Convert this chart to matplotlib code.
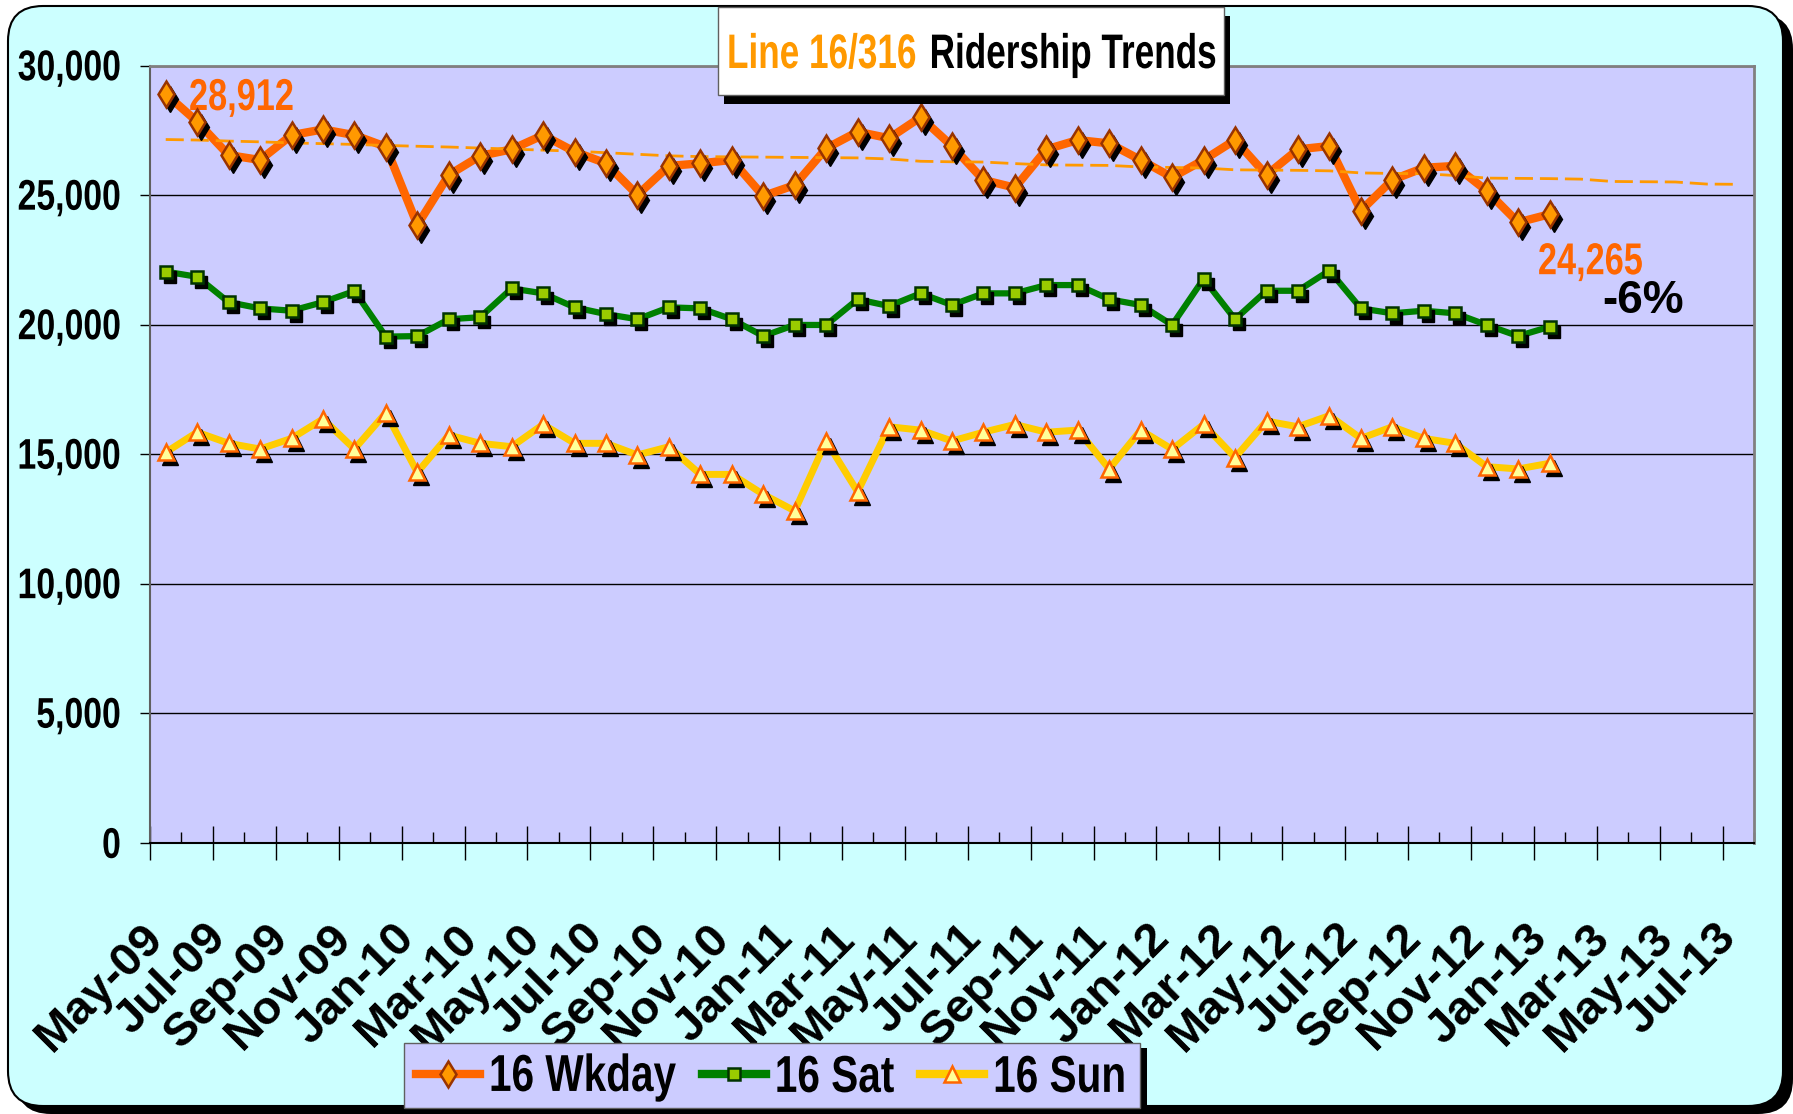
import matplotlib
matplotlib.use('Agg')
import matplotlib.pyplot as plt
import numpy as np
from matplotlib import transforms
from matplotlib.patches import FancyBboxPatch, Rectangle
from matplotlib.patheffects import AbstractPathEffect
from matplotlib.lines import Line2D
from matplotlib.transforms import Affine2D

# month categories (May-09 .. Jul-13)
months = ['May-09', 'Jun-09', 'Jul-09', 'Aug-09', 'Sep-09', 'Oct-09', 'Nov-09', 'Dec-09',
          'Jan-10', 'Feb-10', 'Mar-10', 'Apr-10', 'May-10', 'Jun-10', 'Jul-10', 'Aug-10',
          'Sep-10', 'Oct-10', 'Nov-10', 'Dec-10', 'Jan-11', 'Feb-11', 'Mar-11', 'Apr-11',
          'May-11', 'Jun-11', 'Jul-11', 'Aug-11', 'Sep-11', 'Oct-11', 'Nov-11', 'Dec-11',
          'Jan-12', 'Feb-12', 'Mar-12', 'Apr-12', 'May-12', 'Jun-12', 'Jul-12', 'Aug-12',
          'Sep-12', 'Oct-12', 'Nov-12', 'Dec-12', 'Jan-13', 'Feb-13', 'Mar-13', 'Apr-13',
          'May-13', 'Jun-13', 'Jul-13']

wkday = [28912, 27840, 26550, 26360, 27320, 27540, 27320, 26870, 23850, 25780, 26520, 26770,
         27320, 26680, 26230, 25010, 26130, 26230, 26360, 24970, 25390, 26810, 27450, 27200,
         28010, 26900, 25590, 25290, 26770, 27130, 27000, 26360, 25690, 26360, 27130, 25780,
         26770, 26900, 24400, 25590, 26060, 26130, 25170, 23950, 24265]

sat = [22050, 21850, 20870, 20630, 20540, 20870, 21300, 19540, 19560, 20210, 20290, 21400,
       21210, 20670, 20410, 20210, 20670, 20630, 20210, 19560, 19990, 19990, 20980, 20720,
       21210, 20760, 21210, 21210, 21530, 21530, 20980, 20760, 19990, 21770, 20210, 21310,
       21310, 22090, 20630, 20440, 20540, 20440, 19990, 19560, 19920]

sun = [15070, 15850, 15420, 15200, 15610, 16360, 15200, 16600, 14300, 15740, 15420, 15290,
       16150, 15420, 15420, 14970, 15290, 14220, 14220, 13450, 12810, 15510, 13550, 16060,
       15930, 15510, 15850, 16150, 15850, 15930, 14430, 15930, 15190, 16150, 14870, 16280,
       16060, 16490, 15610, 16060, 15610, 15420, 14520, 14430, 14650]

# weekday trend (dashed)
trend = [27150, 27130, 27090, 27060, 27020, 26990, 26960, 26920, 26890, 26860, 26820, 26780,
         26740, 26700, 26640, 26580, 26520, 26490, 26480, 26470, 26460, 26450, 26440, 26400,
         26310, 26290, 26280, 26220, 26170, 26160, 26150, 26090, 26070, 26050, 25980, 25970,
         25960, 25940, 25860, 25840, 25830, 25760, 25660, 25650, 25640, 25620, 25530, 25520,
         25510, 25430, 25420]

y_ticks = [0, 5000, 10000, 15000, 20000, 25000, 30000]

W, H = 1793, 1114
plt.rcParams['font.family'] = ['Liberation Sans', 'DejaVu Sans']
plt.rcParams['font.weight'] = 'bold'


class Tall(AbstractPathEffect):
    """Stretch glyphs vertically to mimic a condensed (narrow) face."""

    def __init__(self, sy=1.28, center=True):
        super().__init__()
        self.sy = sy
        self.center = center

    def draw_path(self, renderer, gc, tpath, affine, rgbFace=None):
        cy = 0
        if self.center:
            ext = tpath.get_extents()
            cy = (ext.y0 + ext.y1) / 2
        t = Affine2D().translate(0, -cy).scale(1, self.sy).translate(0, cy) + affine
        renderer.draw_path(gc, tpath, t, rgbFace)


def fx(px):
    return px / W


def fy(py):
    return 1 - py / H


fig = plt.figure(figsize=(W / 100, H / 100), dpi=100)
fig.patch.set_facecolor('white')
pix = transforms.IdentityTransform()

# rounded chart area with black shadow
fig.add_artist(FancyBboxPatch((16, 0), 1777, 1100, boxstyle='round,pad=0,rounding_size=35',
                              fc='black', ec='none', transform=pix, zorder=-6))
fig.add_artist(FancyBboxPatch((8, 8), 1775, 1100, boxstyle='round,pad=0,rounding_size=35',
                              fc='#CCFFFF', ec='black', lw=1.5, transform=pix, zorder=-5))

ax = fig.add_axes([fx(150), fy(842.7), fx(1754 - 150), (842.7 - 65.7) / H])
ax.set_facecolor('#CCCCFF')

x = np.arange(len(wkday))
xt = np.arange(len(trend))
shadow = transforms.offset_copy(ax.transData, fig=fig, x=4, y=-5, units='dots')

ax.plot(x, wkday, color='#FF6600', lw=6, zorder=3, solid_joinstyle='round')
ax.plot(x, sat, color='#008000', lw=4.5, zorder=3, solid_joinstyle='round')
ax.plot(x, sun, color='#FFCC00', lw=5, zorder=3, solid_joinstyle='round')
ax.plot(xt, trend, color='#FF9900', lw=2, dashes=(6.5, 2.5), zorder=3.5)

styles = [
    (wkday, 'd', 13, '#FF9900', '#993300'),
    (sat, 's', 9, '#99CC00', '#003300'),
    (sun, '^', 12, '#FFFF99', '#FF6600'),
]
for vals, mk, ms, fc, ec in styles:
    ax.plot(x, vals, ls='none', marker=mk, ms=ms, color='black', transform=shadow, zorder=4)
    ax.plot(x, vals, ls='none', marker=mk, ms=ms, mfc=fc, mec=ec, mew=1.8, zorder=5)

ax.set_xlim(-0.5, len(months) - 0.5)
ax.set_ylim(0, 30000)
ax.set_yticks(y_ticks, [f'{v:,}' for v in y_ticks])
ax.yaxis.grid(True, color='black', lw=1)
ax.set_axisbelow(True)
ax.tick_params(axis='y', direction='out', length=7, width=1, pad=14, labelsize=24.3)
for t in ax.get_yticklabels():
    t.set_path_effects([Tall(1.27)])

ax.set_xticks(np.arange(-0.5, len(months), 2))
ax.set_xticks(np.arange(0.5, len(months), 2), minor=True)
ax.tick_params(axis='x', which='major', direction='inout', length=25, width=1, labelbottom=False)
ax.tick_params(axis='x', which='minor', direction='in', length=8, width=1)
for i in range(0, len(months), 2):
    ax.text(i - 0.79, -0.094, months[i], transform=ax.get_xaxis_transform(), rotation=45,
            rotation_mode='anchor', ha='right', va='top', fontsize=34)

for side in ['top', 'right']:
    ax.spines[side].set_color('#808080')
    ax.spines[side].set_linewidth(2)
ax.spines['left'].set_color('#606060')
ax.spines['left'].set_linewidth(1.5)
ax.spines['bottom'].set_color('black')
ax.spines['bottom'].set_linewidth(1.5)

# value callouts
t1 = ax.text(0.74, 28290, f'{wkday[0]:,}', color='#FF6600', fontsize=24.7,
             ha='left', va='baseline')
t2 = ax.text(43.63, 21950, f'{wkday[-1]:,}', color='#FF6600', fontsize=24.7,
             ha='left', va='baseline')
for t in (t1, t2):
    t.set_path_effects([Tall(1.3, center=False)])
ax.text(45.67, 20450, '-6%', color='black', fontsize=33, ha='left', va='baseline')

# title box
fig.add_artist(Rectangle((724, 1114 - 104), 506, 88, fc='black', ec='none', transform=pix, zorder=6))
fig.add_artist(Rectangle((718, 1114 - 95), 506, 88, fc='white', ec='#606060', lw=1,
                         transform=pix, zorder=6.5))
ta = fig.text(fx(727), fy(68), 'Line 16/316', color='#FF9900', fontsize=25.3, ha='left',
              va='baseline', zorder=7)
tb = fig.text(fx(1217), fy(68), 'Ridership Trends', color='black', fontsize=25.3, ha='right',
              va='baseline', zorder=7)
for t in (ta, tb):
    t.set_path_effects([Tall(1.38, center=False)])

# legend box
fig.add_artist(Rectangle((410, 6), 737, 60, fc='black', ec='none', transform=pix, zorder=6))
fig.add_artist(Rectangle((404, 6), 736, 65, fc='#CCCCFF', ec='#606060', lw=1,
                         transform=pix, zorder=6.5))
handles = [
    Line2D([], [], color='#FF6600', lw=6, marker='d', ms=13, mfc='#FF9900', mec='#993300', mew=1.8),
    Line2D([], [], color='#008000', lw=6, marker='s', ms=9, mfc='#99CC00', mec='#003300', mew=1.8),
    Line2D([], [], color='#FFCC00', lw=6, marker='^', ms=12, mfc='#FFFF99', mec='#FF6600', mew=1.8),
]
leg = fig.legend(handles, ['16 Wkday', '16 Sat', '16 Sun'], loc='center',
                 bbox_to_anchor=(fx(771), fy(1077)), ncol=3, frameon=False, fontsize=29.2,
                 handlelength=1.58, handletextpad=0.22, columnspacing=0.64)
leg.set_zorder(7)
for t in leg.get_texts():
    t.set_path_effects([Tall(1.28)])

fig.savefig('out.png', dpi=100, facecolor='white')
